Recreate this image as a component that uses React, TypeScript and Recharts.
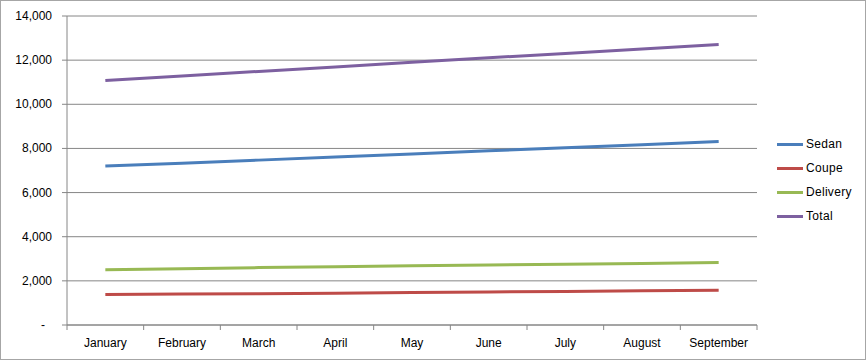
import React from "react";
import { LineChart, Line, XAxis, YAxis, CartesianGrid, Legend } from "recharts";

const months = ["January", "February", "March", "April", "May", "June", "July", "August", "September"];
const sedan = [7200, 7330, 7470, 7610, 7750, 7890, 8030, 8170, 8310];
const coupe = [1380, 1400, 1420, 1440, 1470, 1500, 1520, 1550, 1570];
const delivery = [2500, 2550, 2600, 2640, 2680, 2720, 2750, 2790, 2830];
const total = [11080, 11280, 11490, 11690, 11900, 12110, 12300, 12510, 12710];
const yTicks = [0, 2000, 4000, 6000, 8000, 10000, 12000, 14000];

const series = [
  { key: "Sedan", values: sedan, color: "#4A7EBB" },
  { key: "Coupe", values: coupe, color: "#BE4B48" },
  { key: "Delivery", values: delivery, color: "#98B954" },
  { key: "Total", values: total, color: "#7D60A0" },
];

const data = months.map((m, i) => {
  const row: any = { month: m };
  series.forEach((s) => (row[s.key] = s.values[i]));
  return row;
});

const FONT = "'Liberation Sans', Arial, sans-serif";
const GRID = "#868686";
const PLOT_LEFT = 67;
const PLOT_RIGHT = 757;
const BAND = (PLOT_RIGHT - PLOT_LEFT) / months.length;

const XTick = (props: any) => {
  const { x, y, payload, index } = props;
  const left = x - BAND / 2;
  return (
    <g>
      <line x1={left} x2={left} y1={y - 8} y2={y - 3} stroke={GRID} />
      {index === months.length - 1 && (
        <line x1={x + BAND / 2} x2={x + BAND / 2} y1={y - 8} y2={y - 3} stroke={GRID} />
      )}
      <text x={x} y={y + 14} textAnchor="middle" fontSize={12} fontFamily={FONT} fill="#000">
        {payload.value}
      </text>
    </g>
  );
};

const YTick = (props: any) => {
  const { x, y, payload } = props;
  const v = payload.value;
  const label = v === 0 ? "-" : v.toLocaleString("en-US");
  return (
    <text x={v === 0 ? x - 7 : x} y={y + 4} textAnchor="end" fontSize={12} fontFamily={FONT} fill="#000">
      {label}
    </text>
  );
};

const LegendContent = () => (
  <div style={{ fontFamily: FONT, fontSize: 12 }}>
    {series.map((s) => (
      <div key={s.key} style={{ display: "flex", alignItems: "center", height: 24 }}>
        <div style={{ width: 26, height: 3, background: s.color, marginRight: 3 }} />
        <span style={{ letterSpacing: 0.3 }}>{s.key}</span>
      </div>
    ))}
  </div>
);

export default function App() {
  return (
    <div
      style={{
        position: "absolute",
        left: 0,
        top: 0,
        width: 864,
        height: 358,
        border: "1px solid #a6a6a6",
        background: "#fff",
      }}
    >
      <div style={{ position: "absolute", left: -1, top: -1 }}>
        <LineChart
          width={866}
          height={361}
          data={data}
          margin={{ top: 16, right: 29, bottom: 0, left: 0 }}
        >
          <CartesianGrid vertical={false} stroke={GRID} strokeWidth={1} />
          <XAxis
            dataKey="month"
            scale="band"
            height={36}
            axisLine={{ stroke: GRID }}
            tickLine={false}
            tick={<XTick />}
            interval={0}
          />
          <YAxis
            domain={[0, 14000]}
            ticks={yTicks}
            width={67}
            axisLine={{ stroke: GRID }}
            tickLine={{ stroke: GRID }}
            tickSize={5}
            tickMargin={10}
            tick={<YTick />}
            interval={0}
          />
          <Legend
            layout="vertical"
            align="right"
            verticalAlign="top"
            width={80}
            content={<LegendContent />}
            wrapperStyle={{ position: "absolute", left: 777, top: 132, width: 80 }}
          />
          {series.map((s) => (
            <Line
              key={s.key}
              dataKey={s.key}
              stroke={s.color}
              strokeWidth={3}
              dot={false}
              activeDot={false}
              isAnimationActive={false}
              type="linear"
            />
          ))}
        </LineChart>
      </div>
    </div>
  );
}
